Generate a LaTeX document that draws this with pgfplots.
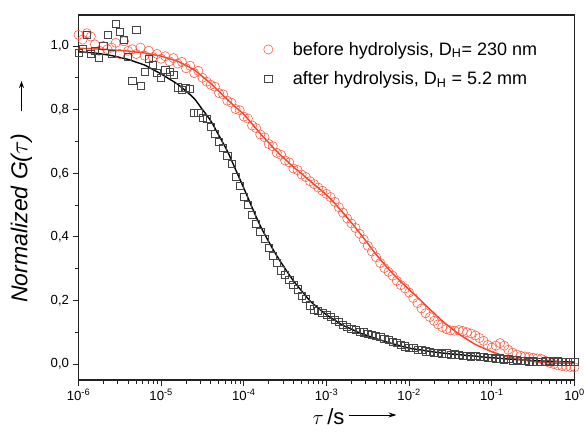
\documentclass[border=0pt]{standalone}
\usepackage{fontspec}
\setmainfont{Liberation Sans}
\usepackage{pgfplots}
\usepackage{pgfplotstable}
\pgfplotsset{compat=1.18}
\usetikzlibrary{arrows.meta}

\definecolor{fitred}{RGB}{255,60,30}
\definecolor{ptred}{RGB}{255,85,60}
\definecolor{ptgray}{RGB}{70,70,70}
\definecolor{axgray}{RGB}{35,35,35}

% before hydrolysis, measured
\pgfplotstableread{
t g
1.00e-6 1.035
1.12e-6 1.020
1.26e-6 1.040
1.41e-6 1.030
1.58e-6 1.005
1.78e-6 0.985
2.00e-6 1.000
2.24e-6 0.990
2.51e-6 0.995
2.82e-6 1.010
3.16e-6 0.975
3.55e-6 1.015
3.98e-6 0.985
4.47e-6 0.990
5.01e-6 0.975
5.62e-6 0.995
6.31e-6 0.970
7.08e-6 0.985
7.94e-6 0.965
8.91e-6 0.975
1.00e-5 0.960
1.12e-5 0.968
1.26e-5 0.952
1.41e-5 0.962
1.58e-5 0.945
1.78e-5 0.950
2.00e-5 0.930
2.24e-5 0.938
2.51e-5 0.915
2.82e-5 0.922
3.16e-5 0.900
3.55e-5 0.888
3.98e-5 0.878
4.47e-5 0.872
5.01e-5 0.852
5.62e-5 0.848
6.31e-5 0.828
7.08e-5 0.822
7.94e-5 0.802
8.91e-5 0.798
1.00e-4 0.778
1.12e-4 0.772
1.26e-4 0.750
1.41e-4 0.742
1.58e-4 0.722
1.78e-4 0.713
2.00e-4 0.692
2.24e-4 0.685
2.51e-4 0.664
2.82e-4 0.658
3.16e-4 0.640
3.55e-4 0.634
3.98e-4 0.615
4.47e-4 0.610
5.01e-4 0.596
5.62e-4 0.588
6.31e-4 0.575
7.08e-4 0.566
7.94e-4 0.555
8.91e-4 0.545
1.00e-3 0.535
1.12e-3 0.525
1.26e-3 0.510
1.41e-3 0.493
1.58e-3 0.476
1.78e-3 0.458
2.00e-3 0.442
2.24e-3 0.428
2.51e-3 0.410
2.82e-3 0.392
3.16e-3 0.372
3.55e-3 0.354
3.98e-3 0.336
4.47e-3 0.318
5.01e-3 0.302
5.62e-3 0.290
6.31e-3 0.278
7.08e-3 0.262
7.94e-3 0.248
8.91e-3 0.238
1.00e-2 0.225
1.12e-2 0.208
1.26e-2 0.192
1.41e-2 0.175
1.58e-2 0.160
1.78e-2 0.148
2.00e-2 0.136
2.24e-2 0.125
2.51e-2 0.116
2.82e-2 0.110
3.16e-2 0.106
3.55e-2 0.105
3.98e-2 0.107
4.47e-2 0.104
5.01e-2 0.100
5.62e-2 0.096
6.31e-2 0.090
7.08e-2 0.082
7.94e-2 0.073
8.91e-2 0.060
1.00e-1 0.052
1.12e-1 0.058
1.26e-1 0.066
1.41e-1 0.058
1.58e-1 0.045
1.78e-1 0.036
2.00e-1 0.030
2.24e-1 0.026
2.51e-1 0.024
2.82e-1 0.022
3.16e-1 0.020
3.55e-1 0.018
3.98e-1 0.016
4.47e-1 0.010
5.01e-1 0.004
5.62e-1 0.000
6.31e-1 -0.004
7.08e-1 -0.006
7.94e-1 -0.008
8.91e-1 -0.009
1.00 -0.010
}\before

% after hydrolysis, measured
\pgfplotstableread{
t g
1.00e-6 0.978
1.12e-6 0.990
1.26e-6 1.035
1.41e-6 0.975
1.58e-6 0.985
1.78e-6 0.962
2.00e-6 1.000
2.24e-6 1.035
2.51e-6 0.975
2.82e-6 1.070
3.16e-6 1.045
3.55e-6 1.020
3.98e-6 0.965
4.47e-6 0.890
5.01e-6 1.050
5.62e-6 0.875
6.31e-6 0.918
7.08e-6 0.960
7.94e-6 0.940
8.91e-6 0.915
1.00e-5 0.900
1.12e-5 0.925
1.26e-5 0.918
1.41e-5 0.910
1.58e-5 0.870
1.78e-5 0.862
2.00e-5 0.868
2.24e-5 0.865
2.51e-5 0.790
2.82e-5 0.790
3.16e-5 0.775
3.55e-5 0.770
3.98e-5 0.745
4.47e-5 0.725
5.01e-5 0.700
5.62e-5 0.680
6.31e-5 0.655
7.08e-5 0.630
7.94e-5 0.590
8.91e-5 0.560
1.00e-4 0.525
1.12e-4 0.500
1.26e-4 0.470
1.41e-4 0.440
1.58e-4 0.415
1.78e-4 0.395
2.00e-4 0.365
2.24e-4 0.340
2.51e-4 0.318
2.82e-4 0.295
3.16e-4 0.280
3.55e-4 0.265
3.98e-4 0.248
4.47e-4 0.235
5.01e-4 0.215
5.62e-4 0.205
6.31e-4 0.185
7.08e-4 0.172
7.94e-4 0.168
8.91e-4 0.160
1.00e-3 0.154
1.12e-3 0.148
1.26e-3 0.140
1.41e-3 0.132
1.58e-3 0.124
1.78e-3 0.118
2.00e-3 0.112
2.24e-3 0.108
2.51e-3 0.102
2.82e-3 0.100
3.16e-3 0.095
3.55e-3 0.092
3.98e-3 0.088
4.47e-3 0.085
5.01e-3 0.080
5.62e-3 0.076
6.31e-3 0.070
7.08e-3 0.066
7.94e-3 0.060
8.91e-3 0.056
1.00e-2 0.052
1.12e-2 0.050
1.26e-2 0.045
1.41e-2 0.044
1.58e-2 0.040
1.78e-2 0.038
2.00e-2 0.036
2.24e-2 0.035
2.51e-2 0.033
2.82e-2 0.034
3.16e-2 0.030
3.55e-2 0.031
3.98e-2 0.028
4.47e-2 0.026
5.01e-2 0.027
5.62e-2 0.024
6.31e-2 0.025
7.08e-2 0.022
7.94e-2 0.023
8.91e-2 0.020
1.00e-1 0.019
1.12e-1 0.017
1.26e-1 0.018
1.41e-1 0.015
1.58e-1 0.016
1.78e-1 0.012
2.00e-1 0.013
2.24e-1 0.010
2.51e-1 0.011
2.82e-1 0.008
3.16e-1 0.009
3.55e-1 0.007
3.98e-1 0.008
4.47e-1 0.009
5.01e-1 0.010
5.62e-1 0.008
6.31e-1 0.009
7.08e-1 0.007
7.94e-1 0.008
8.91e-1 0.006
1.00 0.007
}\after

% fitted curves
\pgfplotstableread{
t g
1.00e-6 0.993
1.26e-6 0.992
1.58e-6 0.991
2.00e-6 0.990
2.51e-6 0.988
3.16e-6 0.986
3.98e-6 0.984
5.01e-6 0.981
6.31e-6 0.978
7.94e-6 0.973
1.00e-5 0.968
1.26e-5 0.960
1.58e-5 0.952
2.00e-5 0.939
2.51e-5 0.925
3.16e-5 0.904
3.98e-5 0.882
5.01e-5 0.857
6.31e-5 0.832
7.94e-5 0.808
1.00e-4 0.785
1.26e-4 0.755
1.58e-4 0.725
2.00e-4 0.696
2.51e-4 0.668
3.16e-4 0.644
3.98e-4 0.620
5.01e-4 0.598
6.31e-4 0.576
7.94e-4 0.554
1.00e-3 0.532
1.26e-3 0.505
1.58e-3 0.476
2.00e-3 0.445
2.51e-3 0.413
3.16e-3 0.379
3.98e-3 0.345
5.01e-3 0.314
6.31e-3 0.285
7.94e-3 0.259
1.00e-2 0.234
1.26e-2 0.210
1.58e-2 0.185
2.00e-2 0.160
2.51e-2 0.136
3.16e-2 0.115
3.98e-2 0.095
5.01e-2 0.078
6.31e-2 0.062
7.94e-2 0.050
1.00e-1 0.039
1.26e-1 0.030
1.58e-1 0.022
2.00e-1 0.017
2.51e-1 0.012
3.16e-1 0.009
3.98e-1 0.006
5.01e-1 0.004
6.31e-1 0.003
7.94e-1 0.002
1.00 0.002
}\beforefit

\pgfplotstableread{
t g
1.00e-6 0.982
1.26e-6 0.980
1.58e-6 0.978
2.00e-6 0.974
2.51e-6 0.970
3.16e-6 0.964
3.98e-6 0.958
5.01e-6 0.949
6.31e-6 0.940
7.94e-6 0.926
1.00e-5 0.912
1.26e-5 0.896
1.58e-5 0.880
2.00e-5 0.858
2.51e-5 0.835
3.16e-5 0.800
3.98e-5 0.765
5.01e-5 0.718
6.31e-5 0.670
7.94e-5 0.612
1.00e-4 0.553
1.26e-4 0.492
1.58e-4 0.435
2.00e-4 0.385
2.51e-4 0.340
3.16e-4 0.300
3.98e-4 0.262
5.01e-4 0.230
6.31e-4 0.199
7.94e-4 0.176
1.00e-3 0.155
1.26e-3 0.138
1.58e-3 0.122
2.00e-3 0.110
2.51e-3 0.098
3.16e-3 0.089
3.98e-3 0.080
5.01e-3 0.072
6.31e-3 0.064
7.94e-3 0.057
1.00e-2 0.050
1.26e-2 0.046
1.58e-2 0.042
2.00e-2 0.038
2.51e-2 0.035
3.16e-2 0.032
3.98e-2 0.030
5.01e-2 0.027
6.31e-2 0.025
7.94e-2 0.022
1.00e-1 0.020
1.26e-1 0.018
1.58e-1 0.016
2.00e-1 0.014
2.51e-1 0.013
3.16e-1 0.011
3.98e-1 0.010
5.01e-1 0.009
6.31e-1 0.008
7.94e-1 0.007
1.00 0.006
}\afterfit

\begin{document}
\begin{tikzpicture}
\begin{axis}[
    scale only axis,
    width=496pt, height=365pt,
    xmode=log, log basis x=10,
    xmin=1e-6, xmax=1,
    ymin=-0.05, ymax=1.0975,
    axis line style={axgray, line width=1.1pt},
    tick pos=left, tick align=outside,
    major tick length=6pt, minor tick length=4pt,
    tick style={axgray, line width=1pt},
    xtick={1e-6,1e-5,1e-4,1e-3,1e-2,1e-1,1},
    xticklabels={10\textsuperscript{-6},10\textsuperscript{-5},10\textsuperscript{-4},10\textsuperscript{-3},10\textsuperscript{-2},10\textsuperscript{-1},10\textsuperscript{0}},
    minor xtick={2e-6,3e-6,4e-6,5e-6,6e-6,7e-6,8e-6,9e-6,
                 2e-5,3e-5,4e-5,5e-5,6e-5,7e-5,8e-5,9e-5,
                 2e-4,3e-4,4e-4,5e-4,6e-4,7e-4,8e-4,9e-4,
                 2e-3,3e-3,4e-3,5e-3,6e-3,7e-3,8e-3,9e-3,
                 2e-2,3e-2,4e-2,5e-2,6e-2,7e-2,8e-2,9e-2,
                 0.2,0.3,0.4,0.5,0.6,0.7,0.8,0.9},
    ytick={0,0.2,0.4,0.6,0.8,1.0},
    minor ytick={0.1,0.3,0.5,0.7,0.9},
    /pgf/number format/assume math mode=true,
    y tick label style={/pgf/number format/fixed,
        /pgf/number format/fixed zerofill,
        /pgf/number format/precision=1,
        /pgf/number format/use comma},
    tick label style={font=\fontsize{13.2}{15}\selectfont},
    legend style={draw=none, fill=none,
        at={(axis description cs:0.367,0.937)}, anchor=north west,
        font=\fontsize{18}{21}\selectfont, row sep=11pt},
    legend cell align=left,
]
\addplot[only marks, mark=o, mark size=4.6pt,
    mark options={draw=ptred, line width=0.55pt}]
    table[x=t, y=g] {\before};
\addlegendentry{\hspace*{18pt}before hydrolysis, D\textsubscript{H}= 230 nm}
\addplot[only marks, mark=square, mark size=3.6pt,
    mark options={draw=ptgray, line width=0.65pt}]
    table[x=t, y=g] {\after};
\addlegendentry{\hspace*{18pt}after hydrolysis, D\textsubscript{H} = 5.2 mm}
\addplot[fitred, line width=1.4pt, smooth, forget plot] table[x=t, y=g] {\beforefit};
\addplot[black, line width=1.4pt, smooth, forget plot] table[x=t, y=g] {\afterfit};
\end{axis}
% axis titles with their arrows
\node[rotate=90, font=\fontsize{23}{26}\selectfont\itshape] at (-57pt,162pt) {Normalized G($\tau$)};
\draw[-{Stealth[length=7pt,width=5pt]}, line width=1pt] (-57pt,269pt) -- (-57pt,299pt);
\node[font=\fontsize{22}{24}\selectfont] at (250pt,-37pt) {$\tau$\,/s};
\draw[-{Stealth[length=8pt,width=5pt]}, line width=1pt] (270pt,-35pt) -- (318pt,-35pt);
\pgfresetboundingbox
\path[use as bounding box] (-78.5pt,-51pt) rectangle (506.5pt,380pt);
\end{tikzpicture}
\end{document}
